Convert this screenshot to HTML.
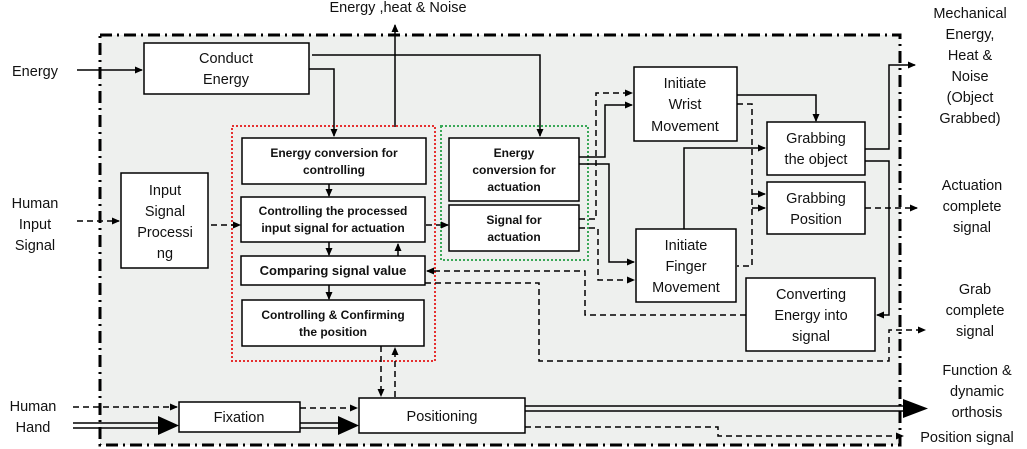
<!DOCTYPE html>
<html><head><meta charset="utf-8"><style>
html,body{margin:0;padding:0;background:#fff;}
svg{display:block;}
text{font-family:"Liberation Sans",sans-serif;fill:#111;}
.b{font-weight:bold;font-size:12px;}
.n{font-size:14.5px;}
</style></head><body>
<svg width="1027" height="449" viewBox="0 0 1027 449" xmlns="http://www.w3.org/2000/svg">
<defs>
<marker id="a" markerWidth="8" markerHeight="8" refX="7" refY="4" orient="auto" markerUnits="userSpaceOnUse"><path d="M0,0.5 L8,4 L0,7.5z" fill="#000"/></marker>
</defs>
<rect x="100" y="35" width="800" height="410" fill="#eef0ee" stroke="#000" stroke-width="3" stroke-dasharray="12,5,2,5"/>
<rect x="232" y="126" width="203" height="235" fill="none" stroke="#e53030" stroke-width="2" stroke-dasharray="2,2"/>
<rect x="441" y="126" width="147" height="134" fill="none" stroke="#3aa858" stroke-width="2" stroke-dasharray="2,2"/>
<g fill="#fff" stroke="#000" stroke-width="1.5">
<rect x="144" y="43" width="165" height="51"/>
<rect x="121" y="173" width="87" height="95"/>
<rect x="242" y="138" width="184" height="46"/>
<rect x="241" y="197" width="184" height="45"/>
<rect x="241" y="256" width="184" height="29"/>
<rect x="242" y="300" width="182" height="46"/>
<rect x="449" y="138" width="130" height="63"/>
<rect x="449" y="205" width="130" height="46"/>
<rect x="634" y="67" width="103" height="74"/>
<rect x="636" y="229" width="100" height="73"/>
<rect x="767" y="122" width="98" height="53"/>
<rect x="767" y="182" width="98" height="52"/>
<rect x="746" y="278" width="129" height="73"/>
<rect x="179" y="402" width="121" height="30"/>
<rect x="359" y="398" width="166" height="35"/>
</g>
<g fill="none" stroke="#000" stroke-width="1.5">
<path d="M77,70 H142" marker-end="url(#a)"/>
<path d="M309,69 H334 V136" marker-end="url(#a)"/>
<path d="M312,55 H540 V136" marker-end="url(#a)"/>
<path d="M395,127 V25" marker-end="url(#a)"/>
<path d="M329,184 V196" marker-end="url(#a)"/>
<path d="M329,242 V255" marker-end="url(#a)"/>
<path d="M329,285 V299" marker-end="url(#a)"/>
<path d="M398,256 V244" marker-end="url(#a)"/>
<path d="M579,157 H605 V105 H632" marker-end="url(#a)"/>
<path d="M579,164 H609 V262 H634" marker-end="url(#a)"/>
<path d="M737,95 H816 V121" marker-end="url(#a)"/>
<path d="M684,229 V148 H765" marker-end="url(#a)"/>
<path d="M865,149 H889 V65 H915" marker-end="url(#a)"/>
<path d="M865,161 H889 V315 H877" marker-end="url(#a)"/>
</g>
<g fill="none" stroke="#000" stroke-width="1.5" stroke-dasharray="6,4">
<path d="M77,221 H119" marker-end="url(#a)"/>
<path d="M211,225 H240" marker-end="url(#a)"/>
<path d="M426,225 H448" marker-end="url(#a)"/>
<path d="M579,219 H596 V93 H632" marker-end="url(#a)"/>
<path d="M579,228 H598 V280 H634" marker-end="url(#a)"/>
<path d="M737,104 H752 V266 H737"/>
<path d="M752,194 H765" marker-end="url(#a)"/>
<path d="M752,208 H765" marker-end="url(#a)"/>
<path d="M865,208 H917" marker-end="url(#a)"/>
<path d="M746,315 H585 V271 H427" marker-end="url(#a)"/>
<path d="M425,283 H539 V361 H889 V330 H925" marker-end="url(#a)"/>
<path d="M73,407 H177" marker-end="url(#a)"/>
<path d="M300,408 H357" marker-end="url(#a)"/>
<path d="M381,346 V396" marker-end="url(#a)"/>
<path d="M395,397 V348" marker-end="url(#a)"/>
<path d="M525,427 H718 V436 H903" marker-end="url(#a)"/>
</g>
<g fill="none" stroke="#000" stroke-width="1.5">
<path d="M73,423 H160 M73,428 H160"/>
<path d="M300,423 H340 M300,428 H340"/>
<path d="M525,406 H905 M525,411 H905"/>
</g>
<path d="M158,416 L179,425.5 L158,435z"/>
<path d="M338,416 L359,425.5 L338,435z"/>
<path d="M903,399 L928,408.5 L903,418z"/>
<g class="n" text-anchor="middle">
<text x="226" y="63">Conduct</text><text x="226" y="84">Energy</text>
<text x="35" y="76">Energy</text>
<text x="35" y="208">Human</text><text x="35" y="229">Input</text><text x="35" y="250">Signal</text>
<text x="165" y="195">Input</text><text x="165" y="216">Signal</text><text x="165" y="237">Processi</text><text x="165" y="258">ng</text>
<text x="398" y="12">Energy ,heat &amp; Noise</text>
<text x="685" y="88">Initiate</text><text x="685" y="109">Wrist</text><text x="685" y="131">Movement</text>
<text x="686" y="250">Initiate</text><text x="686" y="271">Finger</text><text x="686" y="292">Movement</text>
<text x="816" y="143">Grabbing</text><text x="816" y="164">the object</text>
<text x="816" y="203">Grabbing</text><text x="816" y="224">Position</text>
<text x="811" y="299">Converting</text><text x="811" y="320">Energy into</text><text x="811" y="341">signal</text>
<text x="239" y="422">Fixation</text>
<text x="442" y="421">Positioning</text>
<text x="33" y="411">Human</text><text x="33" y="432">Hand</text>
<text x="970" y="18">Mechanical</text><text x="970" y="39">Energy,</text><text x="970" y="60">Heat &amp;</text><text x="970" y="81">Noise</text><text x="970" y="102">(Object</text><text x="970" y="123">Grabbed)</text>
<text x="972" y="190">Actuation</text><text x="972" y="211">complete</text><text x="972" y="232">signal</text>
<text x="975" y="294">Grab</text><text x="975" y="315">complete</text><text x="975" y="336">signal</text>
<text x="977" y="375">Function &amp;</text><text x="977" y="396">dynamic</text><text x="977" y="417">orthosis</text>
<text x="967" y="442">Position signal</text>
</g>
<g class="b" text-anchor="middle">
<text x="334" y="157">Energy conversion for</text><text x="334" y="174">controlling</text>
<text x="333" y="215">Controlling the processed</text><text x="333" y="232">input signal for actuation</text>
<text x="333" y="275" style="font-size:13px">Comparing signal value</text>
<text x="333" y="319">Controlling &amp; Confirming</text><text x="333" y="336">the position</text>
<text x="514" y="157">Energy</text><text x="514" y="174">conversion for</text><text x="514" y="191">actuation</text>
<text x="514" y="224">Signal for</text><text x="514" y="241">actuation</text>
</g>
</svg>
</body></html>
